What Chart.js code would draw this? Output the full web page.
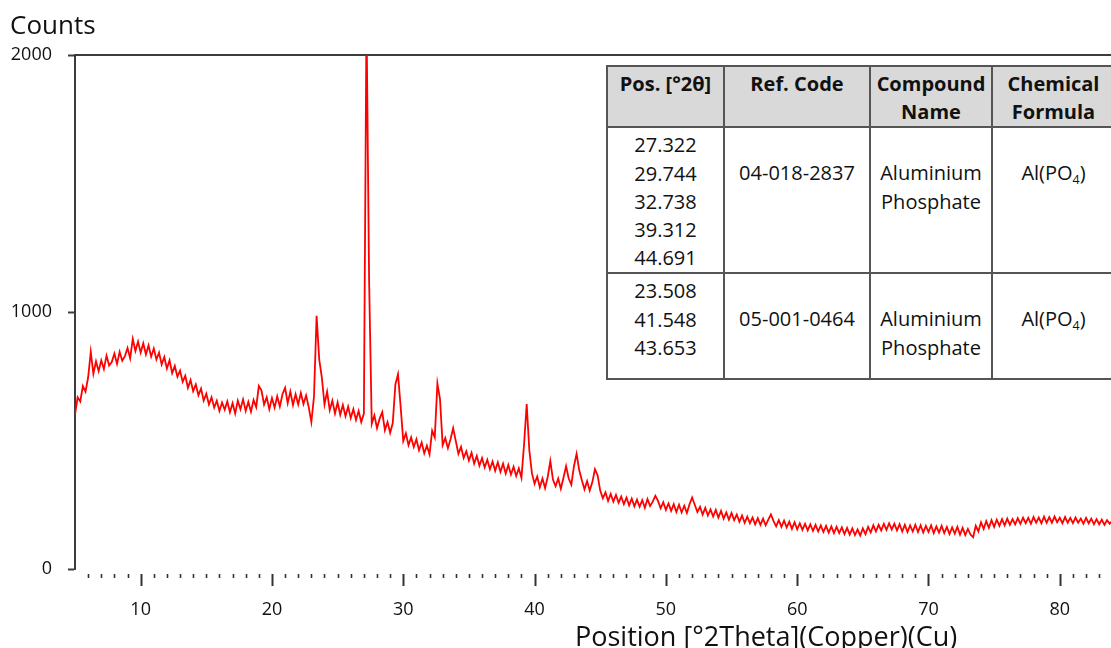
<!DOCTYPE html>
<html>
<head>
<meta charset="utf-8">
<script src="https://cdn.jsdelivr.net/npm/chart.js@4.4.1/dist/chart.umd.min.js"></script>
<style>
  html, body { margin: 0; padding: 0; background: #ffffff; }
  #wrap { position: relative; width: 1111px; height: 648px; overflow: hidden; background: #fff; }
  #c { position: absolute; left: 0; top: 0; }
  .axisTitle { position: absolute; font-family: "Open Sans", sans-serif; color: #111; white-space: nowrap; }
  #ytitle { left: 10px; top: 11px; font-size: 26px; line-height: 26px; }
  #xtitle { left: 575px; top: 622px; font-size: 27px; line-height: 27px; }
  .xlab { position: absolute; width: 40px; margin-left: -20px; text-align: center; font-family: "Open Sans", sans-serif;
          font-size: 18px; line-height: 18px; color: #111; }
  #ref { position: absolute; left: 606px; top: 65px; width: 508px; border-collapse: collapse; table-layout: fixed;
         font-family: "Open Sans", sans-serif; font-size: 20px; line-height: 28.2px; color: #111; background: #fff; }
  #ref th, #ref td { border: 2px solid #555; text-align: center; vertical-align: top; padding: 0; }
  #ref th { background: #d9d9d9; font-weight: bold; padding-top: 3px; }
  #ref tr.h { height: 61px; }
  #ref tr.r1 { height: 146px; }
  #ref tr.r2 { height: 106px; }
  #ref tr.r1 td { padding-top: 31px; }
  #ref tr.r2 td { padding-top: 31px; }
  #ref tr.r1 td.pos { padding-top: 3px; }
  #ref tr.r2 td.pos { padding-top: 3px; }
  #ref sub { font-size: 0.62em; line-height: 0; vertical-align: -0.3em; }
</style>
</head>
<body>
<div id="wrap">
  <canvas id="c" width="1111" height="648"></canvas>
  <div id="ytitle" class="axisTitle">Counts</div>
  <div id="xtitle" class="axisTitle">Position [°2Theta](Copper)(Cu)</div>
  <table id="ref">
    <colgroup><col style="width:117px"><col style="width:146px"><col style="width:122px"><col style="width:123px"></colgroup>
    <thead>
      <tr class="h"><th>Pos. [°2θ]</th><th>Ref. Code</th><th>Compound<br>Name</th><th>Chemical<br>Formula</th></tr>
    </thead>
    <tbody>
      <tr class="r1"><td class="pos">27.322<br>29.744<br>32.738<br>39.312<br>44.691</td><td>04-018-2837</td><td>Aluminium<br>Phosphate</td><td>Al(PO<sub>4</sub>)</td></tr>
      <tr class="r2"><td class="pos">23.508<br>41.548<br>43.653</td><td>05-001-0464</td><td>Aluminium<br>Phosphate</td><td>Al(PO<sub>4</sub>)</td></tr>
    </tbody>
  </table>
</div>
<script>
// ---- scan parameters (XRD step scan) ----
const scanStart = 5.0;   // first 2θ position
const scanStep = 0.2;    // step size in °2θ

// ---- measured counts, one per step, 5.0° .. 84.0° ----
const counts = [
  600, 668, 652, 712, 690, 745, 845, 760, 808, 770,   // 5.0 - 6.8
  812, 778, 830, 792, 805, 838, 798, 845, 810, 828,   // 7.0 - 8.8
  860, 820, 895, 848, 885, 842, 878, 835, 870, 826,   // 9.0 - 10.8
  858, 815, 842, 796, 825, 780, 812, 762, 790, 748,   // 11.0 - 12.8
  772, 728, 752, 705, 735, 692, 718, 676, 702, 655,   // 13.0 - 14.8
  682, 640, 668, 628, 655, 615, 648, 620, 652, 610,   // 15.0 - 16.8
  645, 605, 655, 622, 660, 615, 650, 612, 658, 630,   // 17.0 - 18.8
  712, 695, 640, 668, 622, 665, 628, 672, 632, 680,   // 19.0 - 20.8
  705, 645, 690, 638, 680, 640, 685, 642, 675, 630,   // 21.0 - 22.8
  572, 670, 985, 815, 745, 640, 690, 618, 655, 605,   // 23.0 - 24.8
  648, 600, 638, 595, 632, 588, 622, 580, 615, 572,   // 25.0 - 26.8
  605, 2150, 1120, 565, 598, 548, 585, 610, 540, 572, // 27.0 - 28.8
  530, 568, 718, 758, 632, 498, 528, 482, 512, 475,   // 29.0 - 30.8
  505, 462, 492, 450, 480, 446, 538, 512, 722, 660,   // 31.0 - 32.8
  482, 510, 470, 505, 548, 498, 448, 475, 432, 458,   // 33.0 - 34.8
  422, 452, 410, 440, 402, 432, 395, 425, 388, 418,   // 35.0 - 36.8
  382, 415, 378, 410, 372, 405, 368, 398, 362, 392,   // 37.0 - 38.8
  355, 485, 642, 462, 372, 332, 360, 318, 352, 315,   // 39.0 - 40.8
  358, 420, 348, 322, 352, 312, 355, 400, 352, 328,   // 41.0 - 42.8
  400, 448, 385, 345, 310, 342, 305, 338, 388, 365,   // 43.0 - 44.8
  305, 275, 298, 265, 292, 262, 288, 258, 282, 252,   // 45.0 - 46.8
  278, 248, 274, 244, 270, 242, 268, 238, 272, 245,   // 47.0 - 48.8
  262, 285, 265, 236, 260, 230, 255, 226, 252, 222,   // 49.0 - 50.8
  250, 220, 246, 218, 252, 278, 250, 222, 242, 212,   // 51.0 - 52.8
  238, 208, 232, 204, 230, 200, 226, 196, 220, 192,   // 53.0 - 54.8
  218, 190, 212, 184, 208, 180, 204, 178, 200, 174,   // 55.0 - 56.8
  198, 172, 196, 170, 192, 212, 186, 166, 190, 164,   // 57.0 - 58.8
  188, 162, 184, 156, 182, 154, 178, 152, 176, 150,   // 59.0 - 60.8
  174, 148, 172, 146, 170, 144, 168, 142, 166, 140,   // 61.0 - 62.8
  164, 140, 162, 136, 160, 134, 158, 132, 154, 130,   // 63.0 - 64.8
  158, 136, 164, 142, 170, 146, 172, 150, 176, 152,   // 65.0 - 66.8
  178, 154, 176, 150, 174, 146, 172, 144, 170, 146,   // 67.0 - 68.8
  172, 144, 170, 142, 168, 144, 170, 140, 166, 142,   // 69.0 - 70.8
  168, 140, 164, 136, 162, 138, 164, 134, 160, 132,   // 71.0 - 72.8
  156, 134, 124, 168, 146, 182, 156, 186, 160, 190,   // 73.0 - 74.8
  164, 192, 168, 194, 170, 196, 172, 194, 174, 198,   // 75.0 - 76.8
  176, 200, 178, 199, 176, 202, 180, 200, 178, 204,   // 77.0 - 78.8
  180, 202, 180, 204, 182, 200, 178, 202, 180, 199,   // 79.0 - 80.8
  178, 200, 180, 196, 176, 199, 178, 196, 174, 194,   // 81.0 - 82.8
  174, 192, 172, 190, 176, 188                        // 83.0 - 84.0
];

// ---- axis ticks ----
const xMajorTicks = [10, 20, 30, 40, 50, 60, 70, 80];
const yTickValues = [0, 1000, 2000];
const xRange = [5, 83.9];
const yRange = [0, 2000];

const points = counts.map((c, i) => ({ x: +(scanStart + i * scanStep).toFixed(1), y: c }));

const axisFont = { family: "'Open Sans', sans-serif", size: 18 };

// draws x minor/major tick marks from the x scale
const xTickMarks = {
  id: 'xTickMarks',
  afterDraw(chart) {
    const sx = chart.scales.x, a = chart.chartArea, ctx = chart.ctx;
    ctx.save();
    ctx.strokeStyle = '#333';
    sx.ticks.forEach(t => {
      const px = Math.round(sx.getPixelForValue(t.value)) + 0.5;
      if (px <= a.left + 3) return;
      const major = xMajorTicks.includes(t.value);
      ctx.lineWidth = major ? 2 : 1.6;
      ctx.beginPath();
      ctx.moveTo(px, a.bottom + 5);
      ctx.lineTo(px, a.bottom + (major ? 17 : 9));
      ctx.stroke();
    });
    ctx.restore();
  }
};

const chart = new Chart(document.getElementById('c'), {
  type: 'line',
  data: {
    datasets: [{
      data: points,
      borderColor: '#ff0000',
      borderWidth: 1.8,
      pointRadius: 0,
      tension: 0,
      fill: false
    }]
  },
  options: {
    responsive: false,
    animation: false,
    devicePixelRatio: 1,
    layout: { padding: { top: 55, left: 10, right: 0, bottom: 0 } },
    plugins: { legend: { display: false }, tooltip: { enabled: false }, title: { display: false } },
    scales: {
      x: {
        type: 'linear',
        position: 'bottom',
        min: xRange[0],
        max: xRange[1],
        border: { display: false },
        grid: { display: false, drawTicks: false },
        ticks: { display: false, stepSize: 1, includeBounds: false, autoSkip: false, maxRotation: 0 },
        afterFit: (s) => { s.height = 79; s.paddingLeft = 0; s.paddingRight = 0; }
      },
      x2: {
        type: 'linear',
        position: 'top',
        display: true,
        border: { display: true, color: '#3c3c3c', width: 2 },
        grid: { display: false, drawTicks: false },
        ticks: { display: false },
        afterFit: (s) => { s.height = 0; s.paddingLeft = 0; s.paddingRight = 0; }
      },
      y: {
        type: 'linear',
        min: yRange[0],
        max: yRange[1],
        border: { display: true, color: '#3c3c3c', width: 2 },
        grid: { drawOnChartArea: false, drawTicks: true, tickLength: 7, tickColor: '#3c3c3c', tickWidth: 2 },
        ticks: { padding: 16, color: '#111', font: axisFont, callback: (v) => String(v) },
        afterBuildTicks: (s) => { s.ticks = yTickValues.map(v => ({ value: v })); },
        afterFit: (s) => { s.width = 65; }
      }
    }
  },
  plugins: [xTickMarks]
});

// major x tick labels placed from the x scale
const wrap = document.getElementById('wrap');
const sx = chart.scales.x;
xMajorTicks.forEach(v => {
  const d = document.createElement('div');
  d.className = 'xlab';
  d.textContent = String(v);
  d.style.left = sx.getPixelForValue(v) + 'px';
  d.style.top = (chart.chartArea.bottom + 30) + 'px';
  wrap.appendChild(d);
});
</script>
</body>
</html>
